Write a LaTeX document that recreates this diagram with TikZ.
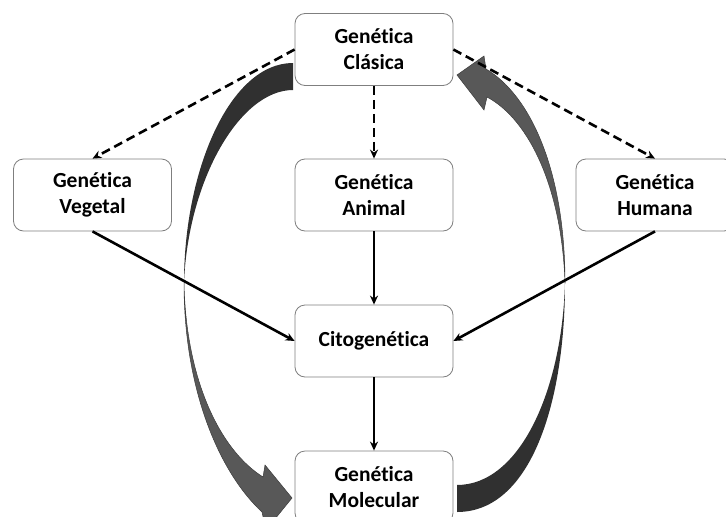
\documentclass[tikz,border=0pt]{standalone}
\usepackage{fontspec}
\setmainfont{Carlito}[Ligatures=NoCommon]
\usetikzlibrary{arrows.meta}
\definecolor{DarkBand}{HTML}{303030}
\definecolor{LightBand}{HTML}{585858}
\definecolor{EdgeBand}{HTML}{3C3C3C}
\definecolor{BoxLine}{HTML}{7F7F7F}
\tikzset{
  field/.style={draw=BoxLine, line width=0.8pt, fill=white, rounded corners=10pt,
    minimum width=158pt, minimum height=72pt, align=center,
    font=\fontsize{21.5}{26}\selectfont\bfseries},
  origin/.style={-{Stealth[length=9pt,width=8pt]}, line width=2.6pt, dash pattern=on 9pt off 5pt},
  flow/.style={-{Stealth[length=9pt,width=8pt]}, line width=2.6pt}
}
\begin{document}
\begin{tikzpicture}[x=1pt,y=-1pt]
  \useasboundingbox (0,0) rectangle (726,517);
  \clip (0,0) rectangle (726,517);

  \fill[DarkBand] (293,63) .. controls (230,63) and (184,170) .. (184,283)
    .. controls (188,180) and (240,90) .. (293,90) -- cycle;
  \filldraw[fill=LightBand, draw=EdgeBand, line width=0.5pt] (184,283)
    .. controls (184,395) and (222,475) .. (262,512)
    -- (266,530) -- (292,498) -- (265,465) -- (263,477)
    .. controls (220,450) and (186,380) .. (184,283) -- cycle;

  \fill[DarkBand] (457,512) .. controls (532,512) and (565,400) .. (565,283)
    .. controls (562,390) and (520,485) .. (457,485) -- cycle;
  \filldraw[fill=LightBand, draw=EdgeBand, line width=0.5pt] (565,283)
    .. controls (565,170) and (530,95) .. (486,69)
    -- (484,56) -- (457,75) -- (484,110) -- (487,97)
    .. controls (530,120) and (562,190) .. (565,283) -- cycle;

  \node[field] (clasica) at (374,49.5) {Genética\\Clásica};
  \node[field] (vegetal) at (92.5,195) {Genética\\Vegetal};
  \node[field] (animal) at (374,195) {Genética\\Animal};
  \node[field] (humana) at (655,195) {Genética\\Humana};
  \node[field] (cito) at (374,341) {Citogenética};
  \node[field] (molecular) at (374,487) {Genética\\Molecular};

  \draw[origin] (clasica.west) -- (vegetal.north);
  \draw[origin] (clasica) -- (animal);
  \draw[origin] (clasica.east) -- (humana.north);
  \draw[flow] (vegetal.south) -- (cito.west);
  \draw[flow] (animal) -- (cito);
  \draw[flow] (humana.south) -- (cito.east);
  \draw[flow] (cito) -- (molecular);

\end{tikzpicture}
\end{document}
